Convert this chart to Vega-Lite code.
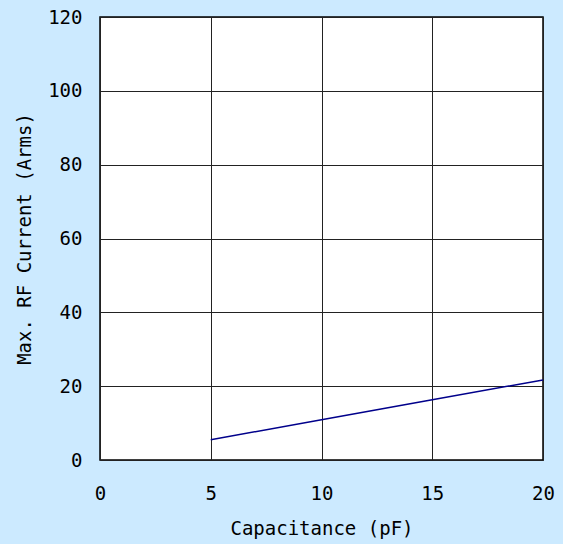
{
  "$schema": "https://vega.github.io/schema/vega-lite/v6.json",
  "autosize": "none",
  "width": 443,
  "height": 443,
  "padding": {"left": 100, "top": 17, "right": 20, "bottom": 84},
  "background": "#cceaff",
  "config": {
    "view": {"fill": "white", "stroke": "black", "strokeWidth": 1.5},
    "axis": {
      "domain": false,
      "ticks": false,
      "grid": true,
      "gridColor": "#222222",
      "gridOpacity": 1,
      "gridWidth": 1,
      "labelFlush": false,
      "labelFont": "DejaVu Sans Mono",
      "labelFontSize": 19,
      "labelColor": "black",
      "titleFont": "DejaVu Sans Mono",
      "titleFontSize": 19,
      "titleFontWeight": "normal",
      "titleColor": "black"
    }
  },
  "data": {"values": [
    {"c": 5, "i": 5.5},
    {"c": 10, "i": 10.9},
    {"c": 15, "i": 16.3},
    {"c": 20, "i": 21.7}
  ]},
  "mark": {"type": "line", "color": "#00008b", "strokeWidth": 1.5},
  "encoding": {
    "x": {"field": "c", "type": "quantitative", "scale": {"domain": [0, 20], "nice": false},
      "axis": {"values": [0, 5, 10, 15, 20], "title": "Capacitance (pF)", "labelPadding": 24, "titlePadding": 16}},
    "y": {"field": "i", "type": "quantitative", "scale": {"domain": [0, 120], "nice": false},
      "axis": {"values": [0, 20, 40, 60, 80, 100, 120], "title": "Max. RF Current (Arms)", "labelPadding": 18, "titlePadding": 13}}
  }
}
